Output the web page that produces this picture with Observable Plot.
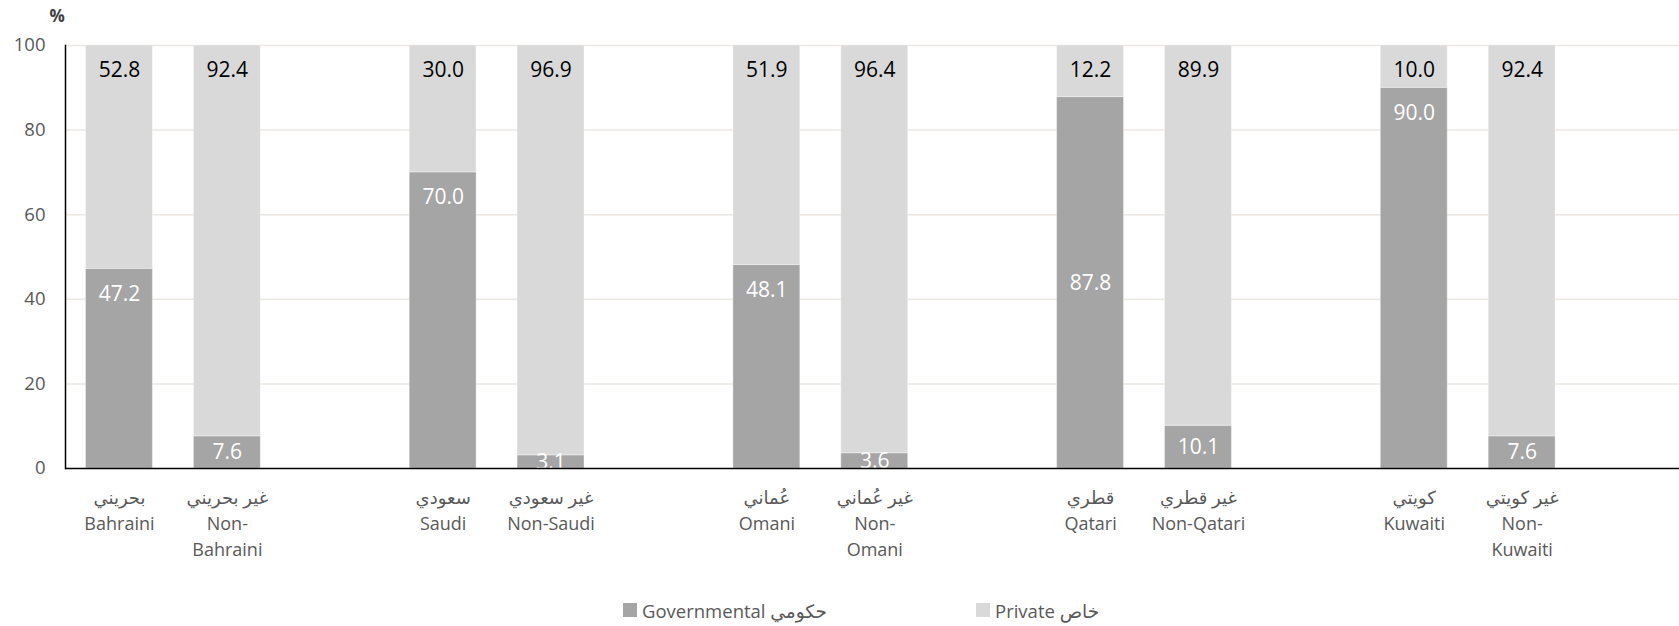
<!DOCTYPE html>
<html>
<head>
<meta charset="utf-8">
<script src="https://cdn.jsdelivr.net/npm/d3@7"></script>
<script src="https://cdn.jsdelivr.net/npm/@observablehq/plot@0.6"></script>
<style>
  html, body { margin: 0; padding: 0; background: #fff; }
  body { width: 1679px; height: 626px; position: relative; overflow: hidden; font-family: "Open Sans", "DejaVu Sans", sans-serif; }
  #legend { position: absolute; top: 597px; left: 0; width: 1679px; height: 26px; font-size: 18.5px; color: #595959; }
  .item { position: absolute; top: 0; display: flex; align-items: center; height: 26px; white-space: nowrap; }
  .sw { width: 14px; height: 14px; margin-right: 5px; display: inline-block; }
</style>
</head>
<body>
<div id="chart"></div>
<div id="legend"></div>
<script>
// ---- data ----
const slots = ["Bahraini", "Non-Bahraini", "gap1", "Saudi", "Non-Saudi", "gap2", "Omani", "Non-Omani", "gap3", "Qatari", "Non-Qatari", "gap4", "Kuwaiti", "Non-Kuwaiti", "gap5"];
const bars = ["Bahraini", "Non-Bahraini", "Saudi", "Non-Saudi", "Omani", "Non-Omani", "Qatari", "Non-Qatari", "Kuwaiti", "Non-Kuwaiti"];
const tickLabels = [
  "بحريني\nBahraini", "غير بحريني\nNon-\nBahraini",
  "سعودي\nSaudi", "غير سعودي\nNon-Saudi",
  "عُماني\nOmani", "غير عُماني\nNon-\nOmani",
  "قطري\nQatari", "غير قطري\nNon-Qatari",
  "كويتي\nKuwaiti", "غير كويتي\nNon-\nKuwaiti"
];
const governmental = [47.2, 7.6, 70.0, 3.1, 48.1, 3.6, 87.8, 10.1, 90.0, 7.6];
const privateSector = [52.8, 92.4, 30.0, 96.9, 51.9, 96.4, 12.2, 89.9, 10.0, 92.4];
const seriesNames = ["Governmental", "Private"];
const legendLabels = ["Governmental حكومي", "Private خاص"];
const centeredGovLabels = ["Qatari"];
const yTicks = [0, 20, 40, 60, 80, 100];

// ---- layout ----
const W = 1679, H = 585, mT = 45, mB = 117, mL = 65, mR = 0;
const step = 107.9;
const colors = ["#A5A5A5", "#D9D9D9"];
const font = '"Open Sans", "DejaVu Sans", sans-serif';
const plotH = H - mT - mB;
const labelOffsetPx = 25;
const offUnits = labelOffsetPx * 100 / plotH;

const rows = [];
bars.forEach((id, i) => {
  rows.push({id, type: seriesNames[0], value: governmental[i]});
  rows.push({id, type: seriesNames[1], value: privateSector[i]});
});
const govLabels = bars.map((id, i) => {
  const end = governmental[i], mid = end / 2;
  const y = centeredGovLabels.includes(id) ? mid : Math.max(end - offUnits, mid);
  return {id, y, text: governmental[i].toFixed(1)};
});
const privLabels = bars.map((id, i) => ({id, y: governmental[i] + privateSector[i], text: privateSector[i].toFixed(1)}));
const xLabels = bars.map((id, i) => ({id, text: tickLabels[i]}));

const chart = Plot.plot({
  width: W, height: H, marginTop: mT, marginBottom: mB, marginLeft: mL, marginRight: mR,
  style: {fontFamily: font, background: "white", overflow: "visible"},
  x: {domain: slots, range: [mL, mL + slots.length * step], round: false, paddingInner: 0.38, paddingOuter: 0.19, align: 0.5, axis: null},
  y: {domain: [0, 100], axis: null},
  color: {domain: seriesNames, range: colors},
  marks: [
    Plot.ruleY(yTicks.filter(d => d > 0), {stroke: "#ECE8E2", strokeWidth: 1.5}),
    Plot.axisY(yTicks, {tickSize: 0, tickPadding: 20, fontSize: 18.5, color: "#595959", label: null}),
    Plot.barY(rows, {x: "id", y: "value", fill: "type", stroke: "#ffffff", strokeOpacity: 0.35, strokeWidth: 1}),
    Plot.text(govLabels, {x: "id", y: "y", text: "text", fill: "white", fontSize: 21}),
    Plot.text(privLabels, {x: "id", y: "y", text: "text", fill: "black", fontSize: 21, dy: labelOffsetPx}),
    Plot.text(xLabels, {x: "id", text: "text", frameAnchor: "bottom", lineAnchor: "top", dy: 17, fontSize: 18, lineHeight: 1.45, fill: "#595959"}),
    Plot.text(["%"], {frameAnchor: "top-left", dx: -16, dy: -36, fontSize: 17, fontWeight: "bold", fill: "#404040", text: d => d}),
    Plot.ruleY([0], {stroke: "black", strokeWidth: 1.5}),
    Plot.frame({anchor: "left", stroke: "black", strokeWidth: 1.5})
  ]
});
document.getElementById("chart").appendChild(chart);

// legend
const legend = document.getElementById("legend");
const legendLeft = [623, 976];
seriesNames.forEach((s, i) => {
  const item = document.createElement("div");
  item.className = "item";
  item.style.left = legendLeft[i] + "px";
  const sw = document.createElement("span");
  sw.className = "sw";
  sw.style.background = colors[i];
  const t = document.createElement("span");
  t.textContent = legendLabels[i];
  t.dir = "ltr";
  item.appendChild(sw);
  item.appendChild(t);
  legend.appendChild(item);
});
</script>
</body>
</html>
